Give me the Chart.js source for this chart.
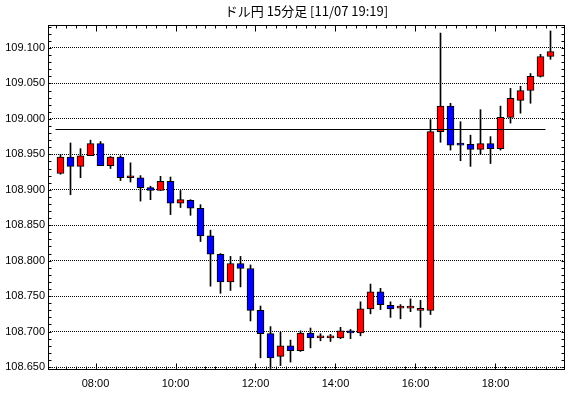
<!DOCTYPE html>
<html>
<head>
<meta charset="utf-8">
<script src="https://cdn.jsdelivr.net/npm/chart.js@4.4.0/dist/chart.umd.min.js"></script>
<style>
html, body { margin: 0; padding: 0; background: #fff; }
</style>
</head>
<body>
<canvas id="myChart" width="570" height="398"></canvas>
<script>
const chartTitle = "ドル円 15分足 [11/07 19:19]";

// 15-minute candles, 07:00 .. 19:15
const times = [
  "07:00","07:15","07:30","07:45","08:00","08:15","08:30","08:45","09:00","09:15",
  "09:30","09:45","10:00","10:15","10:30","10:45","11:00","11:15","11:30","11:45",
  "12:00","12:15","12:30","12:45","13:00","13:15","13:30","13:45","14:00","14:15",
  "14:30","14:45","15:00","15:15","15:30","15:45","16:00","16:15","16:30","16:45",
  "17:00","17:15","17:30","17:45","18:00","18:15","18:30","18:45","19:00","19:15"
];

const opens = [
  108.923,108.946,108.933,108.948,108.965,108.934,108.946,108.917,108.917,108.903,
  108.899,108.912,108.881,108.885,108.874,108.835,108.809,108.770,108.796,108.789,
  108.730,108.697,108.665,108.680,108.673,108.698,108.691,108.691,108.691,108.701,
  108.698,108.732,108.756,108.737,108.733,108.733,108.730,108.730,108.982,109.018,
  108.964,108.964,108.957,108.965,108.958,109.002,109.026,109.040,109.060,109.088
];
const highs = [
  108.950,108.966,108.958,108.970,108.968,108.947,108.948,108.938,108.920,108.905,
  108.919,108.918,108.899,108.886,108.879,108.843,108.810,108.806,108.806,108.794,
  108.736,108.707,108.699,108.688,108.701,108.705,108.697,108.696,108.706,108.703,
  108.742,108.767,108.761,108.742,108.738,108.746,108.744,108.999,109.121,109.022,
  108.996,108.977,109.013,108.975,109.018,109.043,109.046,109.064,109.091,109.124
];
const lows = [
  108.922,108.893,108.917,108.948,108.934,108.930,108.913,108.911,108.884,108.886,
  108.899,108.865,108.875,108.864,108.827,108.764,108.754,108.758,108.763,108.715,
  108.663,108.648,108.652,108.657,108.672,108.677,108.687,108.686,108.690,108.690,
  108.694,108.725,108.731,108.720,108.718,108.728,108.706,108.724,108.967,108.956,
  108.941,108.933,108.950,108.937,108.956,108.994,109.008,109.022,109.059,109.084
];
const closes = [
  108.946,108.933,108.948,108.965,108.934,108.946,108.917,108.917,108.903,108.899,
  108.912,108.881,108.886,108.874,108.835,108.809,108.770,108.796,108.789,108.730,
  108.697,108.663,108.680,108.673,108.698,108.691,108.691,108.691,108.701,108.698,
  108.732,108.756,108.738,108.732,108.733,108.733,108.730,108.982,109.018,108.963,
  108.963,108.957,108.965,108.958,109.002,109.029,109.040,109.060,109.088,109.095
];

const refLevel = 108.985;
const yTicks = [108.650,108.700,108.750,108.800,108.850,108.900,108.950,109.000,109.050,109.100];
const xTickLabels = ["08:00","10:00","12:00","14:00","16:00","18:00"];

const yMin = 108.6458, yMax = 109.1324, yMinorStep = 0.01;
const xMin = -1.25, xMax = 50.45;
const upColor = "#ff0000", downColor = "#0000ff";
const labelFont = { family: "Liberation Sans", size: 11 };

const wickData = times.map((t, i) => ({ x: i, y: [lows[i], highs[i]] }));
const bodyData = times.map((t, i) => ({ x: i, y: [opens[i], closes[i]] }));
const bodyColors = times.map((t, i) => closes[i] >= opens[i] ? upColor : downColor);

// title centred over the plot area
const titlePlugin = {
  id: "titleText",
  afterDraw(chart) {
    const { ctx, chartArea } = chart;
    ctx.save();
    ctx.font = '13px "Noto Sans CJK JP"';
    ctx.fillStyle = "#000";
    ctx.textAlign = "center";
    ctx.textBaseline = "middle";
    ctx.fillText(chartTitle, (chartArea.left + chartArea.right) / 2, 11);
    ctx.restore();
  }
};

// frame and the small inward ticks on all four sides
const framePlugin = {
  id: "frame",
  afterDraw(chart) {
    const { ctx, chartArea, scales } = chart;
    const l = Math.round(chartArea.left) + 0.5;
    const r = Math.round(chartArea.right) - 0.5;
    const t = Math.round(chartArea.top) + 0.5;
    const b = Math.round(chartArea.bottom) - 0.5;
    ctx.save();
    ctx.strokeStyle = "#000";
    ctx.lineWidth = 1;
    ctx.strokeRect(l, t, r - l, b - t);
    ctx.beginPath();
    for (let v = yTicks[0]; v <= yMax; v += yMinorStep) {
      const y = Math.round(scales.y.getPixelForValue(v)) + 0.5;
      ctx.moveTo(l, y); ctx.lineTo(l + 3, y);
      ctx.moveTo(r, y); ctx.lineTo(r - 3, y);
    }
    const majors = xTickLabels.map(s => times.indexOf(s) - 0.5);
    for (let k = Math.ceil(xMin - 0.5) + 0.5; k <= xMax; k++) {
      const x = Math.round(scales.x.getPixelForValue(k)) + 0.5;
      const len = majors.includes(k) ? 6 : 3;
      ctx.moveTo(x, t); ctx.lineTo(x, t + len);
      ctx.moveTo(x, b); ctx.lineTo(x, b - len);
    }
    ctx.stroke();
    ctx.restore();
  }
};

const config = {
  type: "bar",
  data: {
    datasets: [
      {
        type: "line",
        data: [{ x: -0.5, y: refLevel }, { x: 48.5, y: refLevel }],
        borderColor: "#000",
        borderWidth: 1,
        pointRadius: 0,
        order: 0
      },
      {
        data: bodyData,
        backgroundColor: bodyColors,
        borderColor: "#000",
        borderWidth: 1,
        borderSkipped: false,
        barThickness: 7,
        minBarLength: 2,
        grouped: false,
        order: 1
      },
      {
        data: wickData,
        backgroundColor: "#000",
        borderWidth: 0,
        barThickness: 1,
        grouped: false,
        order: 2
      }
    ]
  },
  options: {
    responsive: false,
    animation: false,
    layout: { padding: { top: 25, right: 5, left: 0, bottom: 0 } },
    plugins: { legend: { display: false }, tooltip: { enabled: false }, title: { display: false } },
    scales: {
      x: {
        type: "linear",
        min: xMin,
        max: xMax,
        offset: false,
        afterFit: (scale) => { scale.height = 28; },
        afterBuildTicks: (scale) => {
          scale.ticks = xTickLabels.map(s => ({ value: times.indexOf(s) - 0.5 }));
        },
        ticks: {
          padding: 7,
          autoSkip: false,
          maxRotation: 0,
          color: "#000",
          font: labelFont,
          callback: (v) => times[Math.round(v + 0.5)]
        },
        grid: { display: false, drawTicks: false, offset: false },
        border: { display: false }
      },
      y: {
        min: yMin,
        max: yMax,
        afterFit: (scale) => { scale.width = 48; },
        afterBuildTicks: (scale) => {
          scale.ticks = yTicks.map(v => ({ value: v }));
        },
        ticks: {
          padding: 3,
          color: "#000",
          font: labelFont,
          callback: (v) => v.toFixed(3)
        },
        grid: { color: "#000", lineWidth: 1, drawTicks: false },
        border: { display: false, dash: [1, 1] }
      }
    }
  },
  plugins: [titlePlugin, framePlugin]
};

const myChart = new Chart("myChart", config);
</script>
</body>
</html>
